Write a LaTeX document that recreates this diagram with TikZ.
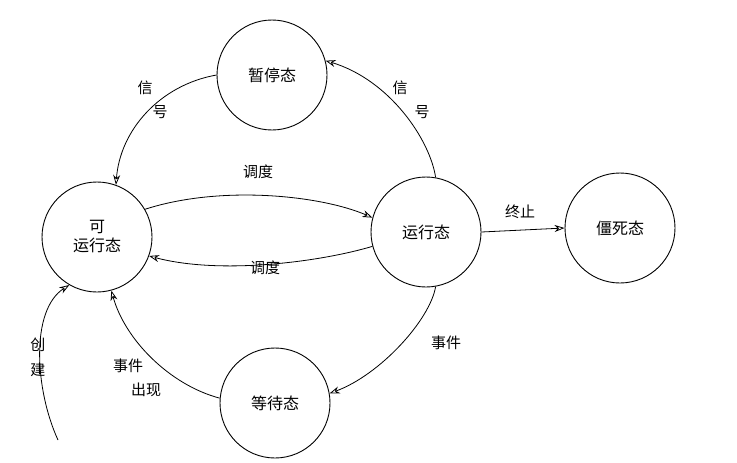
\documentclass[tikz,border=0pt]{standalone}
\usepackage{fontspec}
\newfontfamily\cjk{Noto Sans CJK SC}
\usetikzlibrary{arrows.meta}
\begin{document}
\begin{tikzpicture}[x=1pt,y=-1pt,
  st/.style={circle,draw,line width=0.9pt,minimum size=110pt,inner sep=0pt,font=\cjk\fontsize{16}{19}\selectfont,align=center},
  lab/.style={font=\cjk\fontsize{15}{17}\selectfont,inner sep=1pt},
  ar/.style={-{Stealth[open,length=10pt,width=7pt]},line width=0.8pt}]
\useasboundingbox (0,0) rectangle (737,463);
\node[st] (p) at (272,75) {暂停态};
\node[st] (r) at (97,237) {可\\运行态};
\node[st] (u) at (426,232) {运行态};
\node[st] (d) at (620,228) {僵死态};
\node[st] (w) at (275,403) {等待态};
\coordinate (c0) at (58,440);
\draw[ar] (p.180) .. controls (160,85) and (120,130) .. (r.70);
\draw[ar] (u.80) .. controls (430,140) and (390,80) .. (p.15);
\draw[ar] (r.30) .. controls (220,185) and (320,195) .. (u.165);
\draw[ar] (u.195) .. controls (320,262) and (220,275) .. (r.-20);
\draw[ar] (u.0) -- (d.180);
\draw[ar] (u.-80) .. controls (430,320) and (380,375) .. (w.10);
\draw[ar] (w.175) .. controls (170,385) and (125,340) .. (r.-75);
\draw[ar] (c0) .. controls (35,390) and (30,310) .. (r.-120);
\node[lab] (t1) at (145,88) {信};
\node[lab] (t2) at (160,112) {号};
\node[lab] (t3) at (400,88) {信};
\node[lab] (t4) at (422,112) {号};
\node[lab] (t5) at (258,172) {调度};
\node[lab] (t6) at (265,268) {调度};
\node[lab] (t7) at (520,212) {终止};
\node[lab] (t8) at (446,343) {事件};
\node[lab] (t9) at (128,366) {事件};
\node[lab] (t10) at (146,390) {出现};
\node[lab] (t11) at (38,345) {创};
\node[lab] (t12) at (38,370) {建};
\end{tikzpicture}
\end{document}
